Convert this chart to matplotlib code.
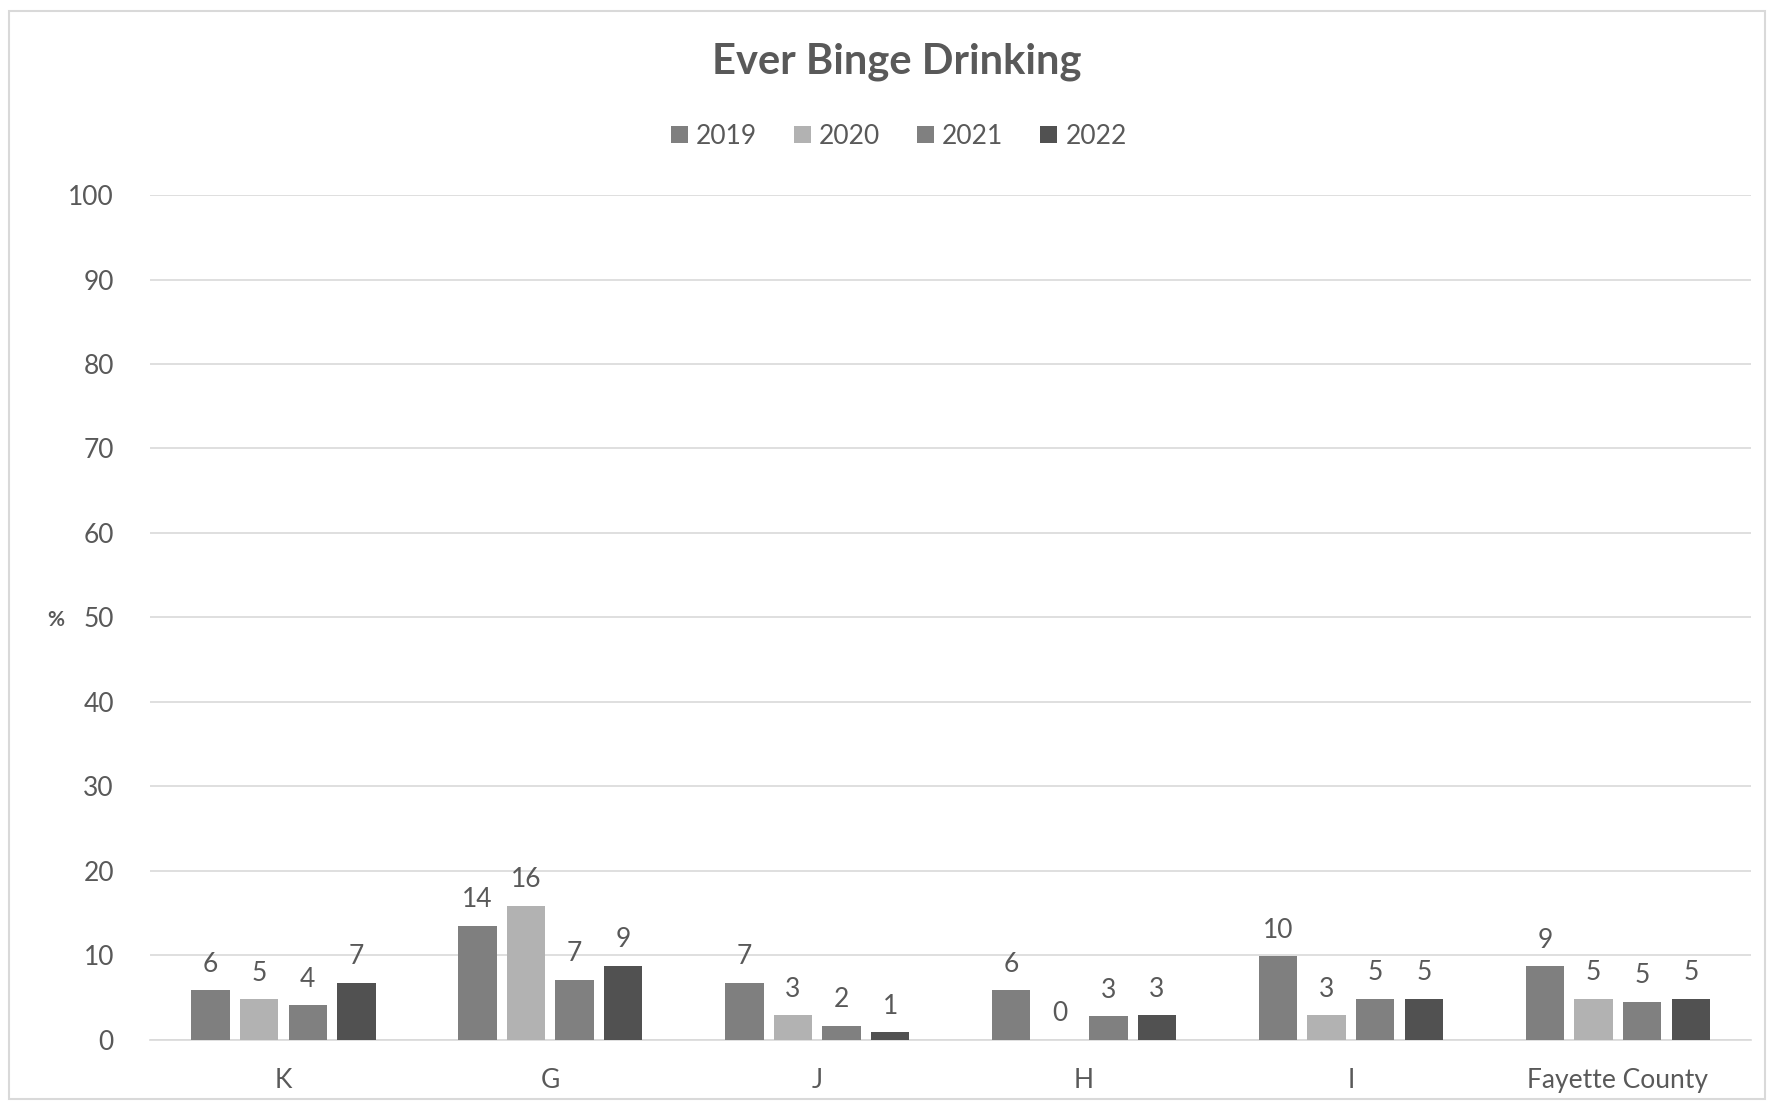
import numpy as np
import matplotlib.pyplot as plt
from matplotlib.patches import Rectangle

plt.rcParams['font.family'] = ['Lato', 'DejaVu Sans']

categories = ['K', 'G', 'J', 'H', 'I', 'Fayette County']
years = ['2019', '2020', '2021', '2022']
v2019 = [5.9, 13.5, 6.8, 5.9, 9.9, 8.7]
v2020 = [4.8, 15.9, 2.9, 0.0, 2.9, 4.9]
v2021 = [4.1, 7.1, 1.7, 2.8, 4.9, 4.5]
v2022 = [6.8, 8.8, 0.9, 2.9, 4.9, 4.9]
series = [v2019, v2020, v2021, v2022]
colors = ['#7f7f7f', '#b2b2b2', '#808080', '#515151']
txt = '#595959'

fig = plt.figure(figsize=(17.69, 11.08), dpi=100)
fig.patches.append(Rectangle((0.005, 0.008), 0.993, 0.982, transform=fig.transFigure,
                             fill=False, edgecolor='#d9d9d9', linewidth=1.5))
ax = fig.add_axes([0.0848, 0.0614, 0.9052, 0.7626])

x = np.arange(len(categories))
step = 0.182
w = 0.144
for i, (vals, yr) in enumerate(zip(series, years)):
    pos = x + (i - 1.5) * step
    bars = ax.bar(pos, vals, w, color=colors[i], label=yr, zorder=3)
    for b, v in zip(bars, vals):
        # excel rounds half up
        lab = int(np.floor(v + 0.5))
        ax.text(b.get_x() + b.get_width() / 2, v + 1.6, str(lab), ha='center',
                va='bottom', fontsize=19, color=txt)

ax.set_xlim(-0.5, 5.5)
ax.set_ylim(0, 100)
ax.set_yticks(range(0, 101, 10))
ax.set_xticks(x)
ax.set_xticklabels(categories)
ax.tick_params(length=0, labelsize=19, labelcolor=txt)
ax.tick_params(axis='x', pad=20)
ax.tick_params(axis='y', pad=26)
ax.grid(axis='y', color='#d9d9d9', linewidth=1.2, zorder=0)
for s in ['top', 'right', 'left']:
    ax.spines[s].set_visible(False)
ax.spines['bottom'].set_color('#d9d9d9')
ax.spines['bottom'].set_linewidth(1.2)
ax.set_ylabel('%', rotation=0, fontsize=15, fontweight='bold', color=txt, va='center')
ax.yaxis.set_label_coords(-0.059, 0.497)

fig.text(0.507, 0.944, 'Ever Binge Drinking', ha='center', va='center', fontsize=30,
         fontweight='bold', color=txt)
fig.legend(loc='center', bbox_to_anchor=(0.508, 0.877), ncol=4, frameon=False,
           fontsize=19, labelcolor=txt, handlelength=0.65, handleheight=0.65,
           handletextpad=0.3, columnspacing=1.4)

fig.savefig('out.png', dpi=100)
